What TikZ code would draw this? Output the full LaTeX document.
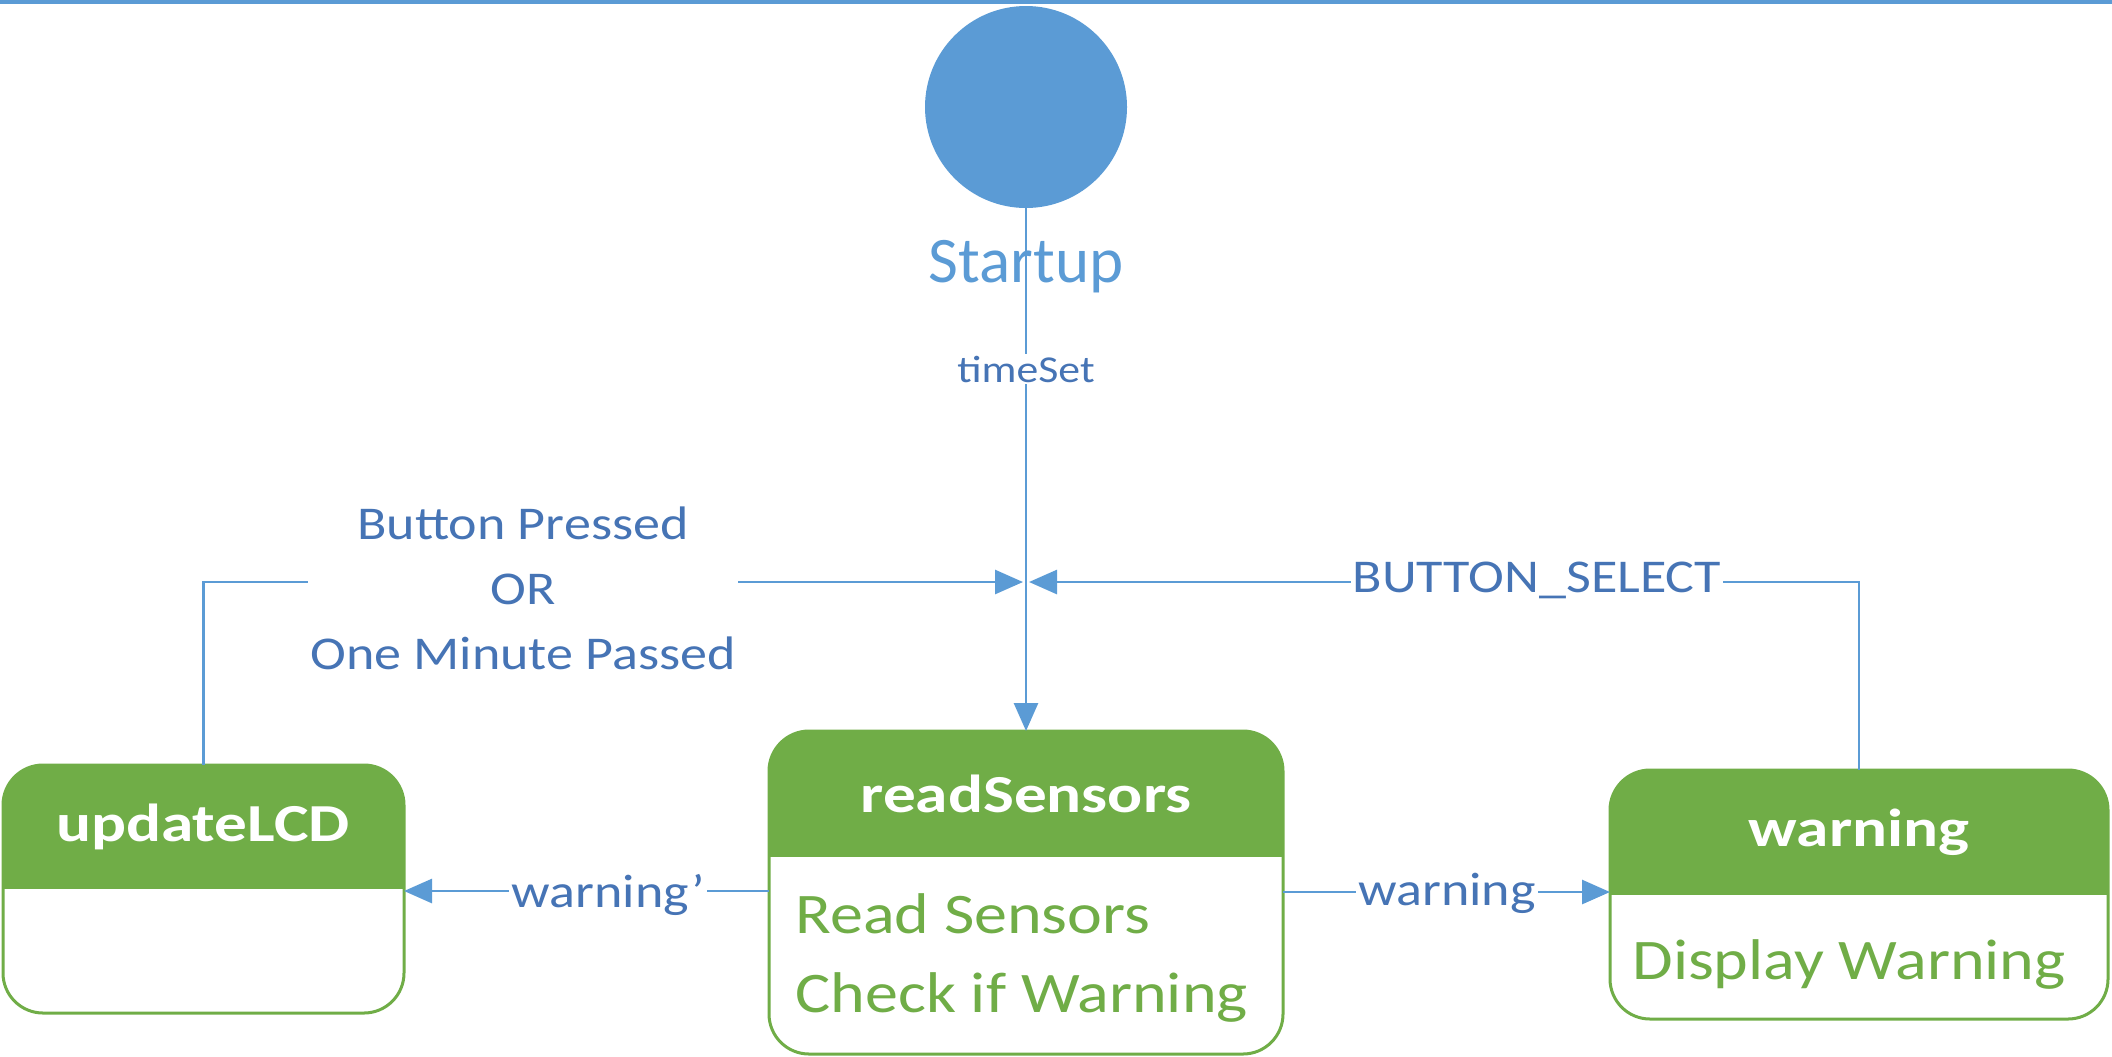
\documentclass[tikz,border=0pt]{standalone}
\usepackage{fontspec}
\setmainfont{Carlito}
\newfontfamily\lblfont[FakeStretch=1.15]{Carlito}
\newfontfamily\hdrfont[FakeStretch=1.22]{Carlito}
\newfontfamily\bodyfont[FakeStretch=1.15]{Carlito}
\usetikzlibrary{arrows.meta,calc,fit}
\definecolor{lineblue}{HTML}{5B9BD5}
\definecolor{txtblue}{HTML}{4674B5}
\definecolor{stgreen}{HTML}{70AD47}
\tikzset{
  conn/.style={draw=lineblue, line width=1.4pt, -{Triangle[length=14pt,width=12pt]}},
  lbl/.style={font=\lblfont\fontsize{23.5}{32.5}\selectfont, text=txtblue, fill=white, inner sep=1pt},
  boxbase/.style={rectangle, inner sep=0pt, outer sep=0pt},
  boxborder/.style={draw=stgreen, line width=1.5pt, rounded corners=20pt},
  hdrtxt/.style={font=\hdrfont\bfseries\fontsize{26.75}{30}\selectfont, text=white, inner sep=0pt},
  bodytxt/.style={font=\bodyfont\fontsize{28.7}{34}\selectfont, text=stgreen, inner sep=0pt, anchor=base west},
}
\begin{document}
\begin{tikzpicture}[x=0.5pt,y=-0.5pt]
\useasboundingbox (0,0) rectangle (2112,1056);
% top rule
\fill[lineblue] (0,0) rectangle (2112,4);

% start state
\node[circle, fill=lineblue, minimum size=101pt, inner sep=0pt, outer sep=0pt] (start) at (1026,107) {};
\node[font=\fontsize{32.5}{36}\selectfont, text=lineblue] (startlbl) at (1026,267) {Startup};

% box corners
\coordinate (lcdNW) at (3,765);   \coordinate (lcdSE) at (404,1013);
\coordinate (rsNW)  at (769,731); \coordinate (rsSE)  at (1283,1054);
\coordinate (wnNW)  at (1610,770);\coordinate (wnSE)  at (2108,1019);

% box bodies and headers
\fill[white, rounded corners=20pt] (lcdNW) rectangle (lcdSE);
\fill[white, rounded corners=20pt] (rsNW) rectangle (rsSE);
\fill[white, rounded corners=20pt] (wnNW) rectangle (wnSE);
\begin{scope}
\clip[rounded corners=20pt] (lcdNW) rectangle (lcdSE);
\fill[stgreen] (lcdNW) rectangle (lcdSE |- 0,889);
\end{scope}
\begin{scope}
\clip[rounded corners=20pt] (rsNW) rectangle (rsSE);
\fill[stgreen] (rsNW) rectangle (rsSE |- 0,857);
\end{scope}
\begin{scope}
\clip[rounded corners=20pt] (wnNW) rectangle (wnSE);
\fill[stgreen] (wnNW) rectangle (wnSE |- 0,895);
\end{scope}
\draw[boxborder] (lcdNW) rectangle (lcdSE);
\draw[boxborder] (rsNW) rectangle (rsSE);
\draw[boxborder] (wnNW) rectangle (wnSE);

% named state nodes (for connectors)
\node[boxbase, fit=(lcdNW)(lcdSE)] (lcd) {};
\node[boxbase, fit=(rsNW)(rsSE)] (rs) {};
\node[boxbase, fit=(wnNW)(wnSE)] (wn) {};

% header texts
\node[hdrtxt] (lcdtitle) at (203,827) {updateLCD};
\node[hdrtxt] (rstitle) at (1026,794) {readSensors};
\node[hdrtxt] (wntitle) at (1859,832) {warning};

% body texts
\node[bodytxt] (rsbody1) at (795,933) {Read Sensors};
\node[bodytxt] (rsbody2) at (795,1012) {Check if Warning};
\node[bodytxt] (wnbody) at (1632,979) {Display Warning};

% connectors
\coordinate (J) at (1026,582);
\draw[conn] (start.south) -- (start.south |- rs.north);
\draw[conn, shorten >=1.5pt] (lcd.north) |- (J);
\draw[conn, shorten >=1.5pt] (wn.north) |- (J);
\draw[conn] (rs.west |- 0,891) -- (lcd.east |- 0,891);
\draw[conn] (rs.east |- 0,892) -- (wn.west |- 0,892);

% connector labels
\node[lbl, font=\lblfont\fontsize{19}{22}\selectfont] (tslbl) at (1026,369) {timeSet};
\node[lbl, align=center] (bplbl) at (523,588) {Button Pressed\\OR\\One Minute Passed};
\node[lbl] (bslbl) at (1537,580) {BUTTON\_SELECT};
\node[lbl] (wplbl) at (608,895) {warning’};
\node[lbl] (wlbl) at (1447,893) {warning};
\end{tikzpicture}
\end{document}
